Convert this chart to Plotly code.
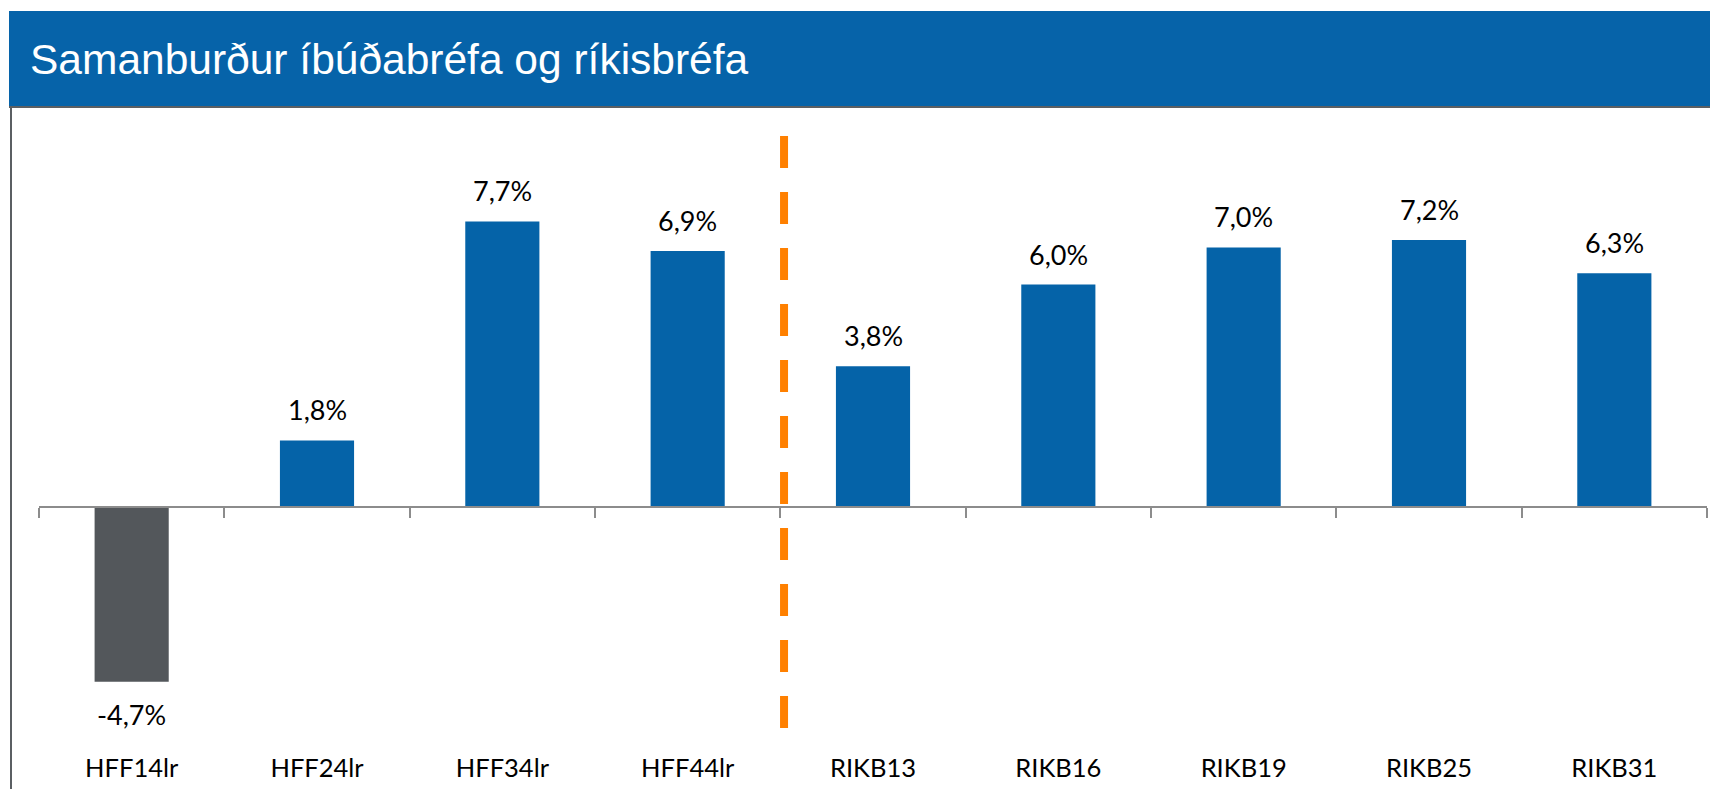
import plotly.graph_objects as go

# ---- data ----
categories = ["HFF14lr", "HFF24lr", "HFF34lr", "HFF44lr",
              "RIKB13", "RIKB16", "RIKB19", "RIKB25", "RIKB31"]
values = [-4.7, 1.8, 7.7, 6.9, 3.8, 6.0, 7.0, 7.2, 6.3]
n_hff = 4  # number of HFF (íbúðabréf) series before the divider
title_text = "Samanburður íbúðabréfa og ríkisbréfa"

# ---- styling ----
OFF = 8                           # page body margin
W, H = 1718 - OFF, 797 - 2 * OFF  # figure size
BLUE = "#0563A8"
GREY_BAR = "#53575B"
AXIS_GREY = "#8C8C8C"
BORDER = "#5B5F63"
ORANGE = "#FF8000"
TITLE_BLUE = "#0663A9"
FONT = "Lato"


def fx(px):  # page px -> paper x
    return (px - OFF) / W


def fy(px):  # page px -> paper y
    return 1 - (px - OFF) / H


y_min, y_max = -6, 10
px_l, px_r = 39, 1707
px_t, px_b = 136, 730
xd = [fx(px_l), fx(px_r)]
yd = [fy(px_b), fy(px_t)]
zero_pos = yd[0] + (0 - y_min) / (y_max - y_min) * (yd[1] - yd[0])

colors = [GREY_BAR if v < 0 else BLUE for v in values]

fig = go.Figure()
fig.add_trace(go.Bar(
    x=categories, y=values, marker=dict(color=colors, line=dict(width=0)),
    showlegend=False, hoverinfo="skip", xaxis="x", yaxis="y",
))
# invisible trace to carry the zero axis (x2)
fig.add_trace(go.Scatter(
    x=categories, y=values, mode="none", xaxis="x2", yaxis="y",
    showlegend=False, hoverinfo="skip",
))

# value labels
for c, v in zip(categories, values):
    lbl = f"{v:.1f}".replace(".", ",") + "%"
    fig.add_annotation(
        x=c, y=v, xref="x", yref="y", text=lbl, showarrow=False,
        yanchor="bottom" if v >= 0 else "top",
        yshift=12 if v >= 0 else -14,
        font=dict(family=FONT, size=27, color="black"),
    )

shapes = []
# title bar
shapes.append(dict(type="rect", xref="paper", yref="paper",
                   x0=fx(9), x1=1.01, y0=fy(106), y1=fy(11),
                   fillcolor=TITLE_BLUE, line=dict(width=0), layer="below"))
# dark line under the title bar
shapes.append(dict(type="line", xref="paper", yref="paper",
                   x0=fx(9), x1=1.01, y0=fy(107), y1=fy(107),
                   line=dict(color=BORDER, width=2)))
# left border
shapes.append(dict(type="line", xref="paper", yref="paper",
                   x0=fx(11), x1=fx(11), y0=fy(106), y1=-0.01,
                   line=dict(color=BORDER, width=2)))
# orange dashed divider between HFF and RIKB
split = n_hff - 0.5 + 0.02
shapes.append(dict(type="line", xref="x", yref="y",
                   x0=split, x1=split, y0=y_max, y1=y_min,
                   line=dict(color=ORANGE, width=8, dash="32px,24px")))

fig.update_layout(
    width=W, height=H,
    margin=dict(l=0, r=0, t=0, b=0),
    paper_bgcolor="white", plot_bgcolor="rgba(0,0,0,0)",
    bargap=0.6,
    shapes=shapes,
    title=dict(text=title_text, xref="container", yref="container",
               x=fx(30), xanchor="left", y=fy(59), yanchor="middle",
               font=dict(family="Liberation Sans, Arial", size=42.5, color="white")),
    xaxis=dict(domain=xd, type="category", categoryorder="array",
               categoryarray=categories, range=[-0.5, len(categories) - 0.5],
               showline=False, ticks="", showgrid=False, zeroline=False,
               tickfont=dict(family=FONT, size=25.5, color="black"),
               ticklabelstandoff=20, anchor="y"),
    xaxis2=dict(overlaying="x", anchor="free", position=zero_pos, side="bottom",
                type="category", categoryorder="array", categoryarray=categories,
                range=[-0.5, len(categories) - 0.5],
                tickson="boundaries", ticks="outside", ticklen=10, tickwidth=2,
                tickcolor=AXIS_GREY, showline=True, linecolor=AXIS_GREY,
                linewidth=2, showticklabels=False, showgrid=False, zeroline=False),
    yaxis=dict(domain=yd, range=[y_min, y_max], visible=False,
               showgrid=False, zeroline=False),
)

fig.write_html("out.html")
